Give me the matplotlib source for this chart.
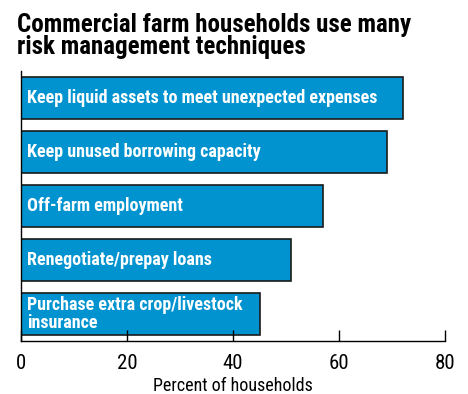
import matplotlib.pyplot as plt
from matplotlib.ticker import NullLocator

labels = ['Keep liquid assets to meet unexpected expenses',
          'Keep unused borrowing capacity',
          'Off-farm employment',
          'Renegotiate/prepay loans',
          'Purchase extra crop/livestock\ninsurance']
values = [72, 69, 57, 51, 45]
ticks = [0, 20, 40, 60, 80]

plt.rcParams['font.family'] = ['Roboto Condensed', 'DejaVu Sans']

fig = plt.figure(figsize=(4.68, 3.94), dpi=100)
ax = fig.add_axes([0.045, 0.1345, 0.906, 0.6853])

pos = list(range(len(values)))
ax.barh(pos, values, height=0.79, color='#0093cf', edgecolor='#1a1a1a', linewidth=1.2)
for p, lab in zip(pos, labels):
    ax.text(1.1, p, lab, color='white', fontsize=13, fontweight='bold',
            va='center', ha='left', linespacing=1.05)

ax.set_xlim(0, 80)
ax.set_ylim(4.5, -0.5)
ax.set_xticks(ticks)
ax.yaxis.set_major_locator(NullLocator())
ax.tick_params(axis='x', direction='in', length=8, width=1, labelsize=15, pad=9)
for s in ['top', 'right']:
    ax.spines[s].set_visible(False)
ax.spines['left'].set_linewidth(1)
ax.spines['bottom'].set_linewidth(1)
ax.set_xlabel('Percent of households', fontsize=13, labelpad=3)

# title in two lines, placed by baseline
fig.text(0.036, 0.919, 'Commercial farm households use many',
         fontsize=18, fontweight='bold', va='baseline', ha='left')
fig.text(0.036, 0.863, 'risk management techniques',
         fontsize=18, fontweight='bold', va='baseline', ha='left')

fig.savefig('out.png', dpi=100)
